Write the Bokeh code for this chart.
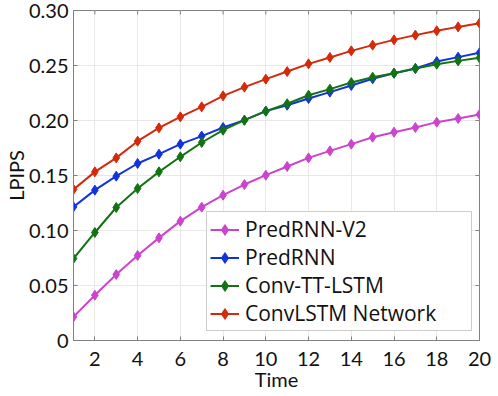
import math
from bokeh.plotting import figure
from bokeh.models import FixedTicker, Legend, LegendItem, Range1d
from bokeh.embed import file_html
from bokeh.resources import INLINE

time = list(range(1, 21))
predrnn_v2 = [0.0215, 0.0412, 0.0600, 0.0773, 0.0933, 0.1085, 0.1212, 0.1321, 0.1418, 0.1503,
              0.1582, 0.1660, 0.1724, 0.1785, 0.1848, 0.1894, 0.1936, 0.1985, 0.2018, 0.2055]
predrnn = [0.1215, 0.1367, 0.1494, 0.1609, 0.1694, 0.1785, 0.1858, 0.1936, 0.2003, 0.2085,
           0.2139, 0.2200, 0.2258, 0.2318, 0.2379, 0.2430, 0.2473, 0.2536, 0.2576, 0.2615]
conv_tt_lstm = [0.0745, 0.0982, 0.1209, 0.1382, 0.1533, 0.1670, 0.1800, 0.1912, 0.2003, 0.2085,
                0.2152, 0.2230, 0.2285, 0.2345, 0.2394, 0.2430, 0.2473, 0.2512, 0.2542, 0.2570]
convlstm = [0.1373, 0.1533, 0.1660, 0.1812, 0.1933, 0.2033, 0.2124, 0.2224, 0.2303, 0.2376,
            0.2445, 0.2515, 0.2573, 0.2633, 0.2685, 0.2733, 0.2776, 0.2815, 0.2851, 0.2885]

series_names = ["PredRNN-V2", "PredRNN", "Conv-TT-LSTM", "ConvLSTM Network"]
series_values = [predrnn_v2, predrnn, conv_tt_lstm, convlstm]
series_colors = ["#cc44cc", "#1133dd", "#137313", "#d42a0b"]

x_min, x_max = 1, 20
y_min, y_max = 0, 0.30
x_ticks = [2, 4, 6, 8, 10, 12, 14, 16, 18, 20]
y_ticks = [0, 0.05, 0.10, 0.15, 0.20, 0.25, 0.30]
y_tick_labels = ["0", "0.05", "0.10", "0.15", "0.20", "0.25", "0.30"]

AXIS_FONT = "Lato"
LEGEND_FONT = "Open Sans"
FRAME = "#808080"
TEXT = "#111111"

p = figure(frame_width=406, frame_height=330, output_backend="svg", toolbar_location=None,
           x_range=Range1d(x_min, x_max), y_range=Range1d(y_min, y_max),
           min_border_left=68, min_border_right=14, min_border_top=10, min_border_bottom=46)
p.background_fill_color = "white"
p.border_fill_color = "white"
p.outline_line_color = FRAME
p.outline_line_width = 1

p.xgrid.ticker = FixedTicker(ticks=x_ticks)
p.ygrid.ticker = FixedTicker(ticks=y_ticks)
p.xgrid.grid_line_color = "#e8e8e8"
p.ygrid.grid_line_color = "#e8e8e8"

# inward ticks on the top and right edges of the frame
p.ray(x=x_ticks, y=[y_max] * len(x_ticks), length=4, length_units="screen",
      angle=-math.pi / 2, line_color=FRAME, line_width=1)
p.ray(x=[x_max] * len(y_ticks), y=y_ticks, length=4, length_units="screen",
      angle=math.pi, line_color=FRAME, line_width=1)

renderers = []
for name, vals, col in zip(series_names, series_values, series_colors):
    r1 = p.line(time, vals, line_color=col, line_width=2)
    r2 = p.scatter(time, vals, marker="diamond", size=10, fill_color=col, line_color=col)
    renderers.append((name, [r1, r2]))

xa = p.xaxis[0]
ya = p.yaxis[0]
xa.ticker = FixedTicker(ticks=x_ticks)
ya.ticker = FixedTicker(ticks=y_ticks)
ya.major_label_overrides = {t: s for t, s in zip(y_ticks, y_tick_labels)}
xa.axis_label = "Time"
ya.axis_label = "LPIPS"
for ax in (xa, ya):
    ax.axis_line_color = FRAME
    ax.major_tick_line_color = FRAME
    ax.major_tick_in = 4
    ax.major_tick_out = 0
    ax.minor_tick_line_color = None
    ax.major_label_text_font = AXIS_FONT
    ax.major_label_text_font_size = "20px"
    ax.major_label_text_color = TEXT
    ax.axis_label_text_font = AXIS_FONT
    ax.axis_label_text_font_size = "20px"
    ax.axis_label_text_font_style = "normal"
    ax.axis_label_text_color = TEXT
xa.major_label_standoff = 11
ya.major_label_standoff = 5
xa.axis_label_standoff = -2
ya.axis_label_standoff = -2

legend = Legend(items=[LegendItem(label=n, renderers=r) for n, r in renderers],
                location=(133, 9), padding=3, spacing=0, margin=0,
                glyph_width=29, glyph_height=27, label_height=27, label_width=223,
                label_standoff=6, label_text_font=LEGEND_FONT, label_text_font_size="21px",
                label_text_color=TEXT, border_line_color="#999999",
                background_fill_alpha=1.0)
p.add_layout(legend, "center")

open("out.html", "w").write(file_html(p, INLINE))
